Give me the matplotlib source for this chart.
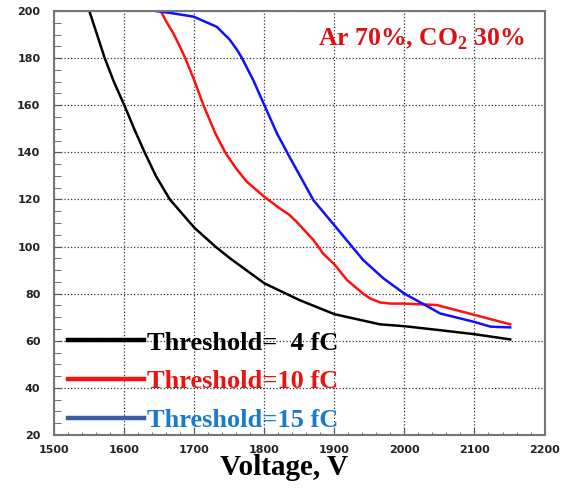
import matplotlib.pyplot as plt
from matplotlib.ticker import MultipleLocator

# values
v_4fc = [1550, 1572, 1585, 1600, 1614, 1629, 1645, 1665, 1700, 1730, 1751,
         1800, 1850, 1900, 1965, 2000, 2051, 2100, 2151]
t_4fc = [200, 180, 170, 160, 150, 140, 130, 120, 108, 100, 95,
         84.4, 77.3, 71.3, 67, 66.2, 64.5, 62.8, 60.6]

v_10fc = [1652, 1660, 1670, 1680, 1687, 1700, 1713, 1730, 1744, 1760, 1775,
          1800, 1822, 1836, 1846, 1870, 1884, 1901, 1918, 1941, 1951, 1965,
          1980, 2000, 2046, 2100, 2151]
t_10fc = [200, 195.5, 190.5, 184.5, 180, 170.5, 160, 148, 140, 133, 127.5,
          121.1, 116.2, 113.4, 110.5, 102.8, 97, 92.1, 85.8, 80, 78, 76.3,
          75.8, 75.8, 75.2, 71, 67]

v_15fc = [1645, 1670, 1699, 1732, 1750, 1761, 1768, 1784, 1800, 1818, 1836,
          1870, 1900, 1941, 1970, 2000, 2027, 2051, 2100, 2123, 2151]
t_15fc = [200, 199, 197.6, 193.3, 188, 183.5, 180, 170.7, 160, 148, 138,
          119.7, 109, 94.3, 86.5, 80, 75.6, 71.6, 68, 66, 65.7]

labels = ['Threshold=  4 fC', 'Threshold=10 fC', 'Threshold=15 fC']
text_colors = ['black', '#ee1111', '#1a7acc']

plt.rcParams['mathtext.fontset'] = 'custom'
plt.rcParams['mathtext.bf'] = 'Liberation Serif:bold'
plt.rcParams['mathtext.rm'] = 'Liberation Serif:bold'

fig = plt.figure(figsize=(5.7, 4.93), dpi=100)
ax = fig.add_axes([0.0953, 0.1176, 0.86, 0.86])

ax.plot(v_4fc, t_4fc, color='black', lw=1.8)
ax.plot(v_10fc, t_10fc, color='#ff1010', lw=1.8)
ax.plot(v_15fc, t_15fc, color='#1010ff', lw=1.8)

ax.set_xlim(1500, 2200)
ax.set_ylim(20, 200)
ax.xaxis.set_major_locator(MultipleLocator(100))
ax.xaxis.set_minor_locator(MultipleLocator(20))
ax.yaxis.set_major_locator(MultipleLocator(20))
ax.yaxis.set_minor_locator(MultipleLocator(5))
ax.grid(True, which='major', ls=':', color='#333333', lw=0.9)

ax.tick_params(which='both', direction='in', colors='#555555',
               labelcolor='#222222', labelsize=8)
ax.tick_params(axis='x', which='major', length=5, pad=7)
ax.tick_params(axis='x', which='minor', length=2.5)
ax.tick_params(axis='y', which='both', length=5, pad=10)
for lab in ax.get_xticklabels() + ax.get_yticklabels():
    lab.set_fontweight('bold')
for s in ax.spines.values():
    s.set_color('#777777')
    s.set_linewidth(1.5)

ax.set_xlabel('Voltage, V', family='Liberation Serif', fontweight='bold',
              fontsize=21)
ax.xaxis.set_label_coords(0.468, -0.045)

ax.text(0.96, 0.918, r'Ar 70%, CO$_\mathbf{2}$ 30%', transform=ax.transAxes,
        ha='right', va='baseline', color='#dd1111',
        family='Liberation Serif', fontweight='bold', fontsize=18.5)

# legend handles copy the thicker strokes of the original
h1, = ax.plot([], [], color='black', lw=3.2)
h2, = ax.plot([], [], color='#ff1010', lw=3.2)
h3, = ax.plot([], [], color='#3a5fa8', lw=3.2)
leg = ax.legend([h1, h2, h3], labels, loc='lower left',
                bbox_to_anchor=(-0.01, -0.037), frameon=False,
                prop={'family': 'Liberation Serif', 'weight': 'bold', 'size': 19},
                handlelength=2.9, handletextpad=0.08, labelspacing=0.58,
                borderpad=0.2)
for txt, c in zip(leg.get_texts(), text_colors):
    txt.set_color(c)

fig.savefig('out.png', dpi=100)
